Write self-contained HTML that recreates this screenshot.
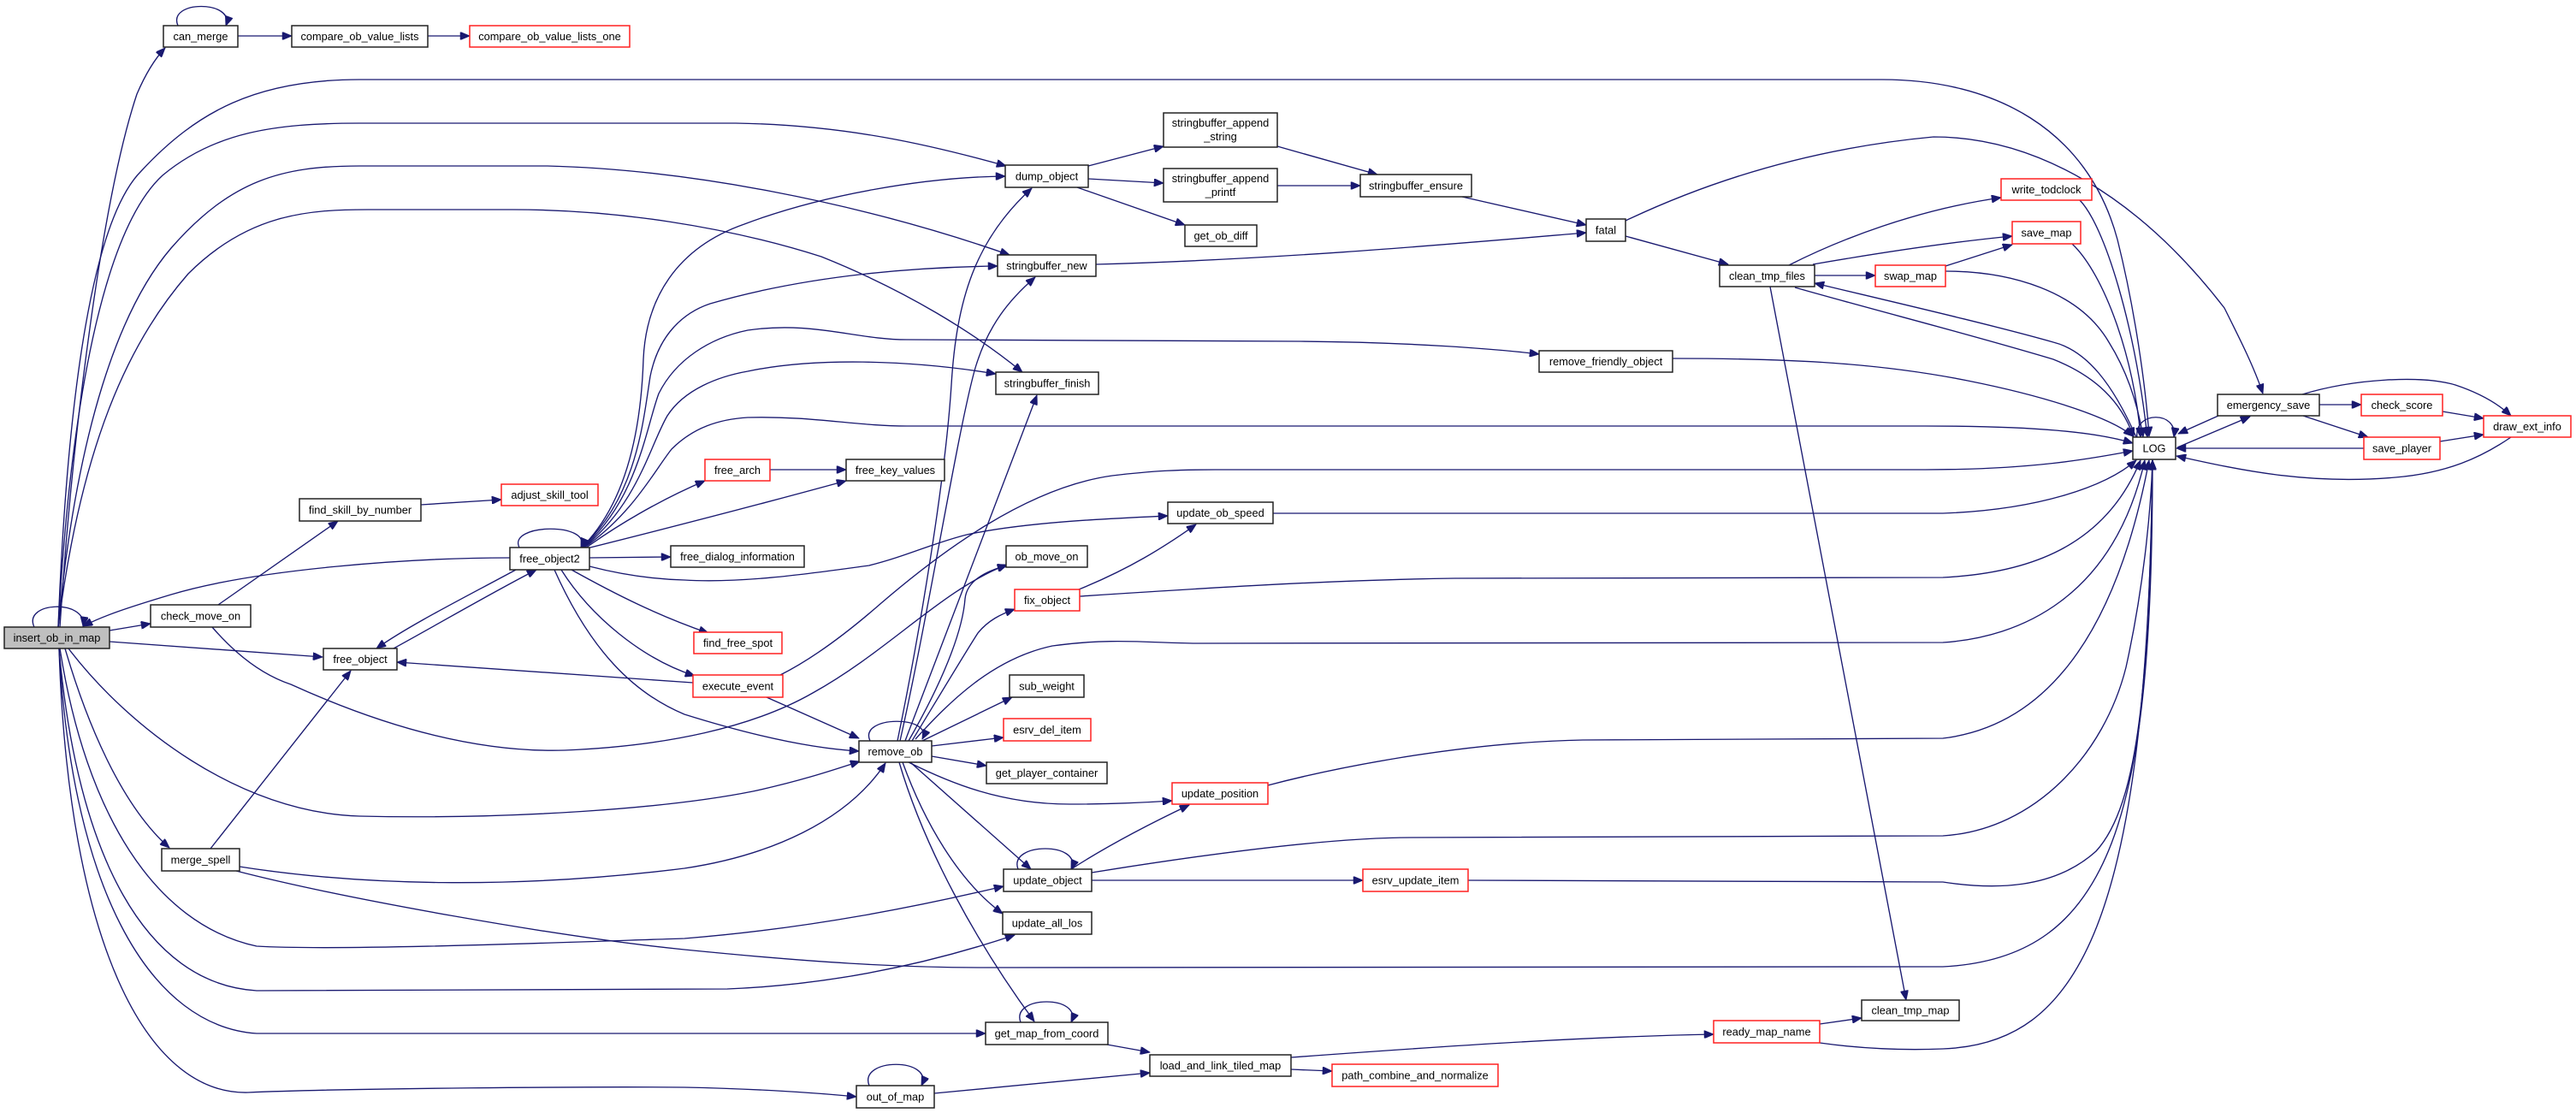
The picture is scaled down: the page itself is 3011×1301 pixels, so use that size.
<!DOCTYPE html>
<html>
<head>
<meta charset="utf-8">
<style>
html,body{margin:0;padding:0;background:#fff;}
svg{display:block;}
.n{fill:#fff;stroke:#222;stroke-width:1.5;}
.r{fill:#fff;stroke:#ff2020;stroke-width:1.5;}
.g{fill:#bfbfbf;stroke:#222;stroke-width:1.5;}
text{font-family:"Liberation Sans",Arial,sans-serif;font-size:12.8px;fill:#000;text-anchor:middle;}
.e{fill:none;stroke:#191970;stroke-width:1.35;marker-end:url(#a);}
</style>
</head>
<body>
<svg width="3011" height="1301" viewBox="0 0 3011 1301" xmlns="http://www.w3.org/2000/svg">
<defs>
<marker id="a" viewBox="0 0 12 10" refX="12" refY="5" markerWidth="12" markerHeight="9" markerUnits="userSpaceOnUse" orient="auto">
<path d="M0,0 L12,5 L0,10 z" fill="#191970" stroke="#191970" stroke-width="1"/>
</marker>
</defs>

<!-- ================= EDGES ================= -->
<g>
<!-- insert_ob_in_map -->
<path class="e" d="M40,733 C26,703 102,700 97,732"/>
<path class="e" d="M70,733 C85,500 120,230 160,110 Q175,75 193,56"/>
<path class="e" d="M68,733 C78,480 105,260 165,200 C230,130 300,93 420,93 L2200,93 C2330,93 2440,150 2475,280 C2495,360 2508,450 2512,510"/>
<path class="e" d="M68,733 C85,430 130,260 190,205 C250,155 320,144 420,144 L860,144 C990,146 1090,170 1176,194"/>
<path class="e" d="M68,733 C90,500 140,360 200,290 C270,210 330,194 420,194 L640,194 C800,198 1000,235 1180,298"/>
<path class="e" d="M68,733 C95,520 150,400 220,320 C290,250 360,245 430,245 L600,245 C720,245 850,265 960,300 C1060,340 1140,390 1195,435"/>
<path class="e" d="M128,737 L176,729"/>
<path class="e" d="M128,750 L377,768"/>
<path class="e" d="M76,758 C100,840 140,940 198,991"/>
<path class="e" d="M80,758 C150,850 280,950 420,954 C600,958 780,945 880,925 C940,912 980,898 1005,890"/>
<path class="e" d="M70,758 C100,950 180,1080 300,1106 C400,1112 700,1100 800,1097 C950,1085 1080,1058 1173,1036"/>
<path class="e" d="M69,758 C90,1000 170,1150 300,1158 C500,1158 700,1157 850,1156 C1000,1150 1120,1115 1186,1093"/>
<path class="e" d="M69,758 C85,1050 180,1200 300,1208 L1152,1208"/>
<path class="e" d="M69,758 C80,1100 170,1280 290,1277 C400,1272 700,1270 800,1271 C900,1273 960,1278 1001,1282"/>

<!-- can_merge -->
<path class="e" d="M208,30 C195,0 275,0 264,30"/>
<path class="e" d="M278,42 L341,42"/>
<path class="e" d="M500,42 L549,42"/>

<!-- check_move_on -->
<path class="e" d="M255,707 L395,609"/>
<path class="e" d="M248,733 C280,770 310,790 340,800 C450,850 560,880 660,877 C780,872 880,850 950,810 C1040,760 1100,690 1177,660"/>
<path class="e" d="M492,590 L586,584"/>

<!-- free_object2 -->
<path class="e" d="M607,640 C593,612 692,610 679,640"/>
<path class="e" d="M596,652 C480,652 300,665 200,695 C150,710 120,720 97,732"/>
<path class="e" d="M603,666 C540,700 480,730 440,758"/>
<path class="e" d="M460,758 C520,725 580,690 627,666"/>
<path class="e" d="M680,640 C740,580 750,480 752,420 C755,350 790,290 870,262 C960,228 1080,207 1175,206"/>
<path class="e" d="M680,640 C745,580 752,490 760,440 C770,390 800,365 830,355 C950,320 1080,312 1166,311"/>
<path class="e" d="M681,640 C745,585 755,500 770,460 C790,420 830,395 874,386 C950,375 1000,397 1060,397 L1520,399 C1650,400 1750,408 1799,414"/>
<path class="e" d="M682,640 C745,590 760,520 780,486 C800,455 840,440 874,434 C950,418 1060,420 1164,437"/>
<path class="e" d="M683,640 C740,600 765,550 785,525 C810,500 840,490 874,488 C950,486 1000,498 1060,498 L2250,498 C2380,498 2450,505 2493,518"/>
<path class="e" d="M684,641 C720,615 770,585 824,562"/>
<path class="e" d="M686,641 C750,625 850,600 989,562"/>
<path class="e" d="M689,652 L784,651"/>
<path class="e" d="M689,662 C720,670 760,677 800,678 C870,682 950,670 1016,661 C1060,650 1090,635 1130,625 C1200,610 1300,606 1365,603"/>
<path class="e" d="M668,666 C720,695 770,720 828,740"/>
<path class="e" d="M656,666 C690,720 750,770 812,790"/>
<path class="e" d="M648,666 C690,760 740,810 800,835 C880,860 950,875 1004,878"/>

<!-- merge_spell -->
<path class="e" d="M246,992 L410,784"/>
<path class="e" d="M280,1013 C420,1035 600,1040 800,1015 C900,1000 990,960 1035,892"/>
<path class="e" d="M276,1018 C400,1050 650,1095 800,1110 C950,1125 1050,1131 1150,1131 L2271,1130 C2470,1120 2516,952 2516,538"/>

<!-- free_arch -->
<path class="e" d="M900,549 L989,549"/>

<!-- execute_event -->
<path class="e" d="M810,798 L464,774"/>
<path class="e" d="M896,815 L1004,863"/>
<path class="e" d="M912,789 C950,770 990,740 1030,705 C1100,645 1200,570 1300,556 C1350,550 1380,549 1420,549 L2250,549 C2380,549 2450,535 2493,527"/>

<!-- remove_ob -->
<path class="e" d="M1017,866 C1003,836 1092,836 1078,864"/>
<path class="e" d="M1049,866 C1075,740 1105,560 1112,450 C1118,350 1140,280 1206,220"/>
<path class="e" d="M1052,866 C1085,720 1120,500 1140,430 C1155,380 1180,350 1210,324"/>
<path class="e" d="M1058,866 L1212,462"/>
<path class="e" d="M1062,866 C1100,800 1125,740 1128,700 C1130,680 1150,668 1177,661"/>
<path class="e" d="M1066,866 C1100,810 1130,760 1143,740 C1155,725 1170,718 1186,712"/>
<path class="e" d="M1070,864 C1110,820 1160,770 1230,755 C1300,745 1350,752 1400,752 L2271,751 C2360,745 2470,700 2507,538"/>
<path class="e" d="M1078,866 L1183,815"/>
<path class="e" d="M1089,872 L1173,862"/>
<path class="e" d="M1089,884 L1153,895"/>
<path class="e" d="M1062,891 C1110,915 1170,940 1250,940 C1300,940 1340,938 1370,936"/>
<path class="e" d="M1064,891 L1205,1016"/>
<path class="e" d="M1055,891 C1080,960 1120,1030 1172,1068"/>
<path class="e" d="M1051,891 C1080,990 1140,1100 1209,1194"/>

<!-- update_object -->
<path class="e" d="M1190,1016 C1178,984 1266,984 1252,1016"/>
<path class="e" d="M1252,1016 C1300,985 1350,960 1390,941"/>
<path class="e" d="M1276,1029 L1593,1029"/>
<path class="e" d="M1276,1020 C1400,1000 1550,979 1650,979 L2271,977 C2380,970 2460,880 2485,780 C2505,690 2514,600 2516,538"/>

<!-- update_position / update_ob_speed / fix_object -->
<path class="e" d="M1482,918 C1550,900 1700,868 1850,865 L2271,863 C2380,850 2470,760 2512,538"/>
<path class="e" d="M1488,600 L2271,600 C2380,596 2460,570 2497,538"/>
<path class="e" d="M1261,689 C1320,665 1360,640 1398,613"/>
<path class="e" d="M1262,697 C1400,688 1550,678 1700,676 L2271,675 C2370,670 2460,640 2502,538"/>

<!-- esrv_update_item -->
<path class="e" d="M1716,1029 L2271,1031 C2330,1040 2400,1040 2450,995 C2500,940 2512,800 2516,538"/>

<!-- get_map_from_coord / out_of_map / load_and_link -->
<path class="e" d="M1193,1195 C1181,1163 1266,1163 1252,1195"/>
<path class="e" d="M1294,1221 L1344,1230"/>
<path class="e" d="M1016,1269 C1003,1236 1092,1236 1077,1269"/>
<path class="e" d="M1092,1278 L1344,1254"/>
<path class="e" d="M1509,1236 C1700,1222 1850,1212 2003,1209"/>
<path class="e" d="M1509,1250 L1557,1252"/>

<!-- ready_map_name -->
<path class="e" d="M2127,1197 L2176,1190"/>
<path class="e" d="M2127,1219 C2170,1225 2220,1228 2271,1226 C2430,1220 2510,1080 2516,538"/>

<!-- dump_object & stringbuffer -->
<path class="e" d="M1272,194 L1360,171"/>
<path class="e" d="M1272,209 L1360,214"/>
<path class="e" d="M1259,219 L1385,263"/>
<path class="e" d="M1493,171 L1610,204"/>
<path class="e" d="M1493,217 L1590,217"/>
<path class="e" d="M1709,230 L1854,263"/>
<path class="e" d="M1281,309 C1500,303 1700,285 1854,272"/>

<!-- fatal -->
<path class="e" d="M1900,276 L2020,309"/>
<path class="e" d="M1900,258 C1980,220 2100,175 2260,160 C2380,160 2500,230 2600,360 C2620,400 2635,430 2645,460"/>

<!-- clean_tmp_files -->
<path class="e" d="M2121,322 L2192,322"/>
<path class="e" d="M2091,310 C2150,280 2240,245 2339,231"/>
<path class="e" d="M2119,309 C2200,295 2280,283 2352,276"/>
<path class="e" d="M2098,336 C2200,365 2300,390 2400,420 C2450,440 2480,470 2494,511"/>
<path class="e" d="M2069,335 L2228,1169"/>
<path class="e" d="M2497,511 C2470,450 2440,410 2400,400 C2330,380 2200,350 2121,331"/>

<!-- swap_map / write_todclock / save_map -->
<path class="e" d="M2274,311 L2352,286"/>
<path class="e" d="M2274,317 C2350,317 2430,340 2465,400 C2490,440 2500,480 2505,511"/>
<path class="e" d="M2431,234 C2460,264 2495,378 2510,511"/>
<path class="e" d="M2422,285 C2460,321 2495,420 2502,511"/>

<!-- remove_friendly_object -->
<path class="e" d="M1955,419 C2100,419 2200,425 2300,445 C2400,465 2470,490 2493,510"/>

<!-- LOG & emergency_save cluster -->
<path class="e" d="M2498,511 C2494,480 2546,480 2541,511"/>
<path class="e" d="M2545,523 L2630,487"/>
<path class="e" d="M2593,486 L2546,507"/>
<path class="e" d="M2711,473 L2760,473"/>
<path class="e" d="M2692,486 L2768,511"/>
<path class="e" d="M2691,461 C2750,443 2830,438 2870,450 C2900,460 2920,472 2935,486"/>
<path class="e" d="M2855,481 L2903,489"/>
<path class="e" d="M2852,516 L2903,508"/>
<path class="e" d="M2763,524 L2544,524"/>
<path class="e" d="M2935,511 C2900,535 2860,553 2800,558 C2700,567 2620,550 2544,533"/>
</g>

<!-- ================= NODES ================= -->
<g>
<rect class="g" x="5" y="733" width="123" height="25"/><text x="66.5" y="750">insert_ob_in_map</text>
<rect class="n" x="191" y="30" width="87" height="25"/><text x="234.5" y="47">can_merge</text>
<rect class="n" x="341" y="30" width="159" height="25"/><text x="420.5" y="47">compare_ob_value_lists</text>
<rect class="r" x="549" y="30" width="187" height="25"/><text x="642.5" y="47">compare_ob_value_lists_one</text>
<rect class="n" x="350" y="583" width="142" height="26"/><text x="421" y="600.5">find_skill_by_number</text>
<rect class="r" x="586" y="566" width="113" height="25"/><text x="642.5" y="583">adjust_skill_tool</text>
<rect class="n" x="596" y="640" width="93" height="26"/><text x="642.5" y="657.5">free_object2</text>
<rect class="n" x="176" y="707" width="117" height="26"/><text x="234.5" y="724.5">check_move_on</text>
<rect class="n" x="378" y="758" width="86" height="25"/><text x="421" y="775">free_object</text>
<rect class="n" x="189" y="992" width="91" height="26"/><text x="234.5" y="1009.5">merge_spell</text>

<rect class="n" x="1175" y="193" width="97" height="26"/><text x="1223.5" y="210.5">dump_object</text>
<rect class="n" x="1360" y="132" width="133" height="40"/><text x="1426.5" y="148">stringbuffer_append</text><text x="1426.5" y="164">_string</text>
<rect class="n" x="1360" y="197" width="133" height="39"/><text x="1426.5" y="213">stringbuffer_append</text><text x="1426.5" y="229">_printf</text>
<rect class="n" x="1385" y="263" width="84" height="25"/><text x="1427" y="280">get_ob_diff</text>
<rect class="n" x="1166" y="298" width="115" height="25"/><text x="1223.5" y="315">stringbuffer_new</text>
<rect class="n" x="1164" y="435" width="120" height="26"/><text x="1224" y="452.5">stringbuffer_finish</text>
<rect class="r" x="824" y="537" width="76" height="25"/><text x="862" y="554">free_arch</text>
<rect class="n" x="989" y="537" width="115" height="25"/><text x="1046.5" y="554">free_key_values</text>
<rect class="n" x="784" y="638" width="156" height="25"/><text x="862" y="655">free_dialog_information</text>
<rect class="n" x="1365" y="587" width="123" height="25"/><text x="1426.5" y="604">update_ob_speed</text>
<rect class="n" x="1176" y="638" width="95" height="25"/><text x="1223.5" y="655">ob_move_on</text>
<rect class="r" x="1186" y="689" width="76" height="25"/><text x="1224" y="706">fix_object</text>
<rect class="r" x="811" y="739" width="103" height="25"/><text x="862.5" y="756">find_free_spot</text>
<rect class="r" x="810" y="789" width="105" height="26"/><text x="862.5" y="806.5">execute_event</text>
<rect class="n" x="1180" y="789" width="87" height="26"/><text x="1223.5" y="806.5">sub_weight</text>
<rect class="r" x="1173" y="840" width="102" height="26"/><text x="1224" y="857.5">esrv_del_item</text>
<rect class="n" x="1004" y="866" width="85" height="25"/><text x="1046.5" y="883">remove_ob</text>
<rect class="n" x="1153" y="891" width="141" height="25"/><text x="1223.5" y="908">get_player_container</text>
<rect class="r" x="1370" y="915" width="112" height="25"/><text x="1426" y="932">update_position</text>
<rect class="n" x="1173" y="1016" width="103" height="26"/><text x="1224.5" y="1033.5">update_object</text>
<rect class="n" x="1172" y="1066" width="104" height="26"/><text x="1224" y="1083.5">update_all_los</text>
<rect class="n" x="1152" y="1195" width="143" height="26"/><text x="1223.5" y="1212.5">get_map_from_coord</text>
<rect class="n" x="1344" y="1233" width="165" height="25"/><text x="1426.5" y="1250">load_and_link_tiled_map</text>
<rect class="n" x="1001" y="1269" width="91" height="26"/><text x="1046.5" y="1286.5">out_of_map</text>

<rect class="n" x="1590" y="204" width="130" height="26"/><text x="1655" y="221.5">stringbuffer_ensure</text>
<rect class="n" x="1854" y="256" width="46" height="26"/><text x="1877" y="273.5">fatal</text>
<rect class="n" x="2010" y="310" width="111" height="25"/><text x="2065.5" y="327">clean_tmp_files</text>
<rect class="r" x="2192" y="310" width="82" height="25"/><text x="2233" y="327">swap_map</text>
<rect class="n" x="1799" y="410" width="156" height="25"/><text x="1877" y="427">remove_friendly_object</text>
<rect class="r" x="2339" y="209" width="106" height="25"/><text x="2392" y="226">write_todclock</text>
<rect class="r" x="2352" y="259" width="80" height="26"/><text x="2392" y="276.5">save_map</text>
<rect class="n" x="2493" y="511" width="50" height="26"/><text x="2518" y="528.5">LOG</text>
<rect class="n" x="2592" y="461" width="119" height="25"/><text x="2651.5" y="478">emergency_save</text>
<rect class="r" x="2760" y="461" width="95" height="25"/><text x="2807.5" y="478">check_score</text>
<rect class="r" x="2903" y="486" width="102" height="25"/><text x="2954" y="503">draw_ext_info</text>
<rect class="r" x="2763" y="511" width="89" height="26"/><text x="2807.5" y="528.5">save_player</text>
<rect class="r" x="1593" y="1016" width="123" height="26"/><text x="1654.5" y="1033.5">esrv_update_item</text>
<rect class="r" x="2003" y="1193" width="124" height="26"/><text x="2065" y="1210.5">ready_map_name</text>
<rect class="n" x="2176" y="1169" width="114" height="24"/><text x="2233" y="1185.5">clean_tmp_map</text>
<rect class="r" x="1557" y="1244" width="194" height="26"/><text x="1654" y="1261.5">path_combine_and_normalize</text>
</g>
</svg>
</body>
</html>
